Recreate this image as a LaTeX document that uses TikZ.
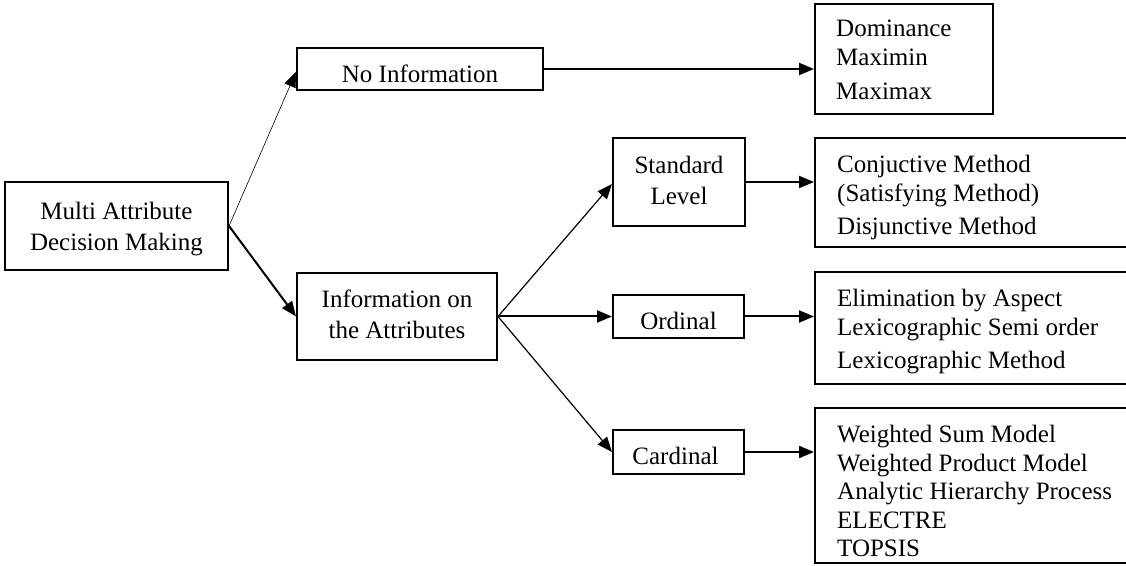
\documentclass[tikz,border=0pt]{standalone}
\usepackage{fontspec}
\setmainfont{Liberation Serif}
\usetikzlibrary{arrows.meta}
\begin{document}
\begin{tikzpicture}[x=1pt,y=1pt,
  box/.style={draw, line width=2pt, rectangle, inner sep=0pt},
  lbl/.style={inner sep=0pt, font=\fontsize{25}{31}\selectfont, align=center},
  lst/.style={inner sep=0pt, font=\fontsize{25}{28.5}\selectfont, align=left, anchor=north west},
  arr/.style={-{Triangle[length=15pt,width=12pt]}, line width=2pt},
  thinarr/.style={arr, line width=0.6pt},
  midarr/.style={arr, line width=1.2pt}]
\useasboundingbox (0,0) rectangle (1126,565);
\clip (0,0) rectangle (1126,565);
% boxes
\node[box, minimum width=223pt, minimum height=88pt] (madm) at (116.5,339) {};
\node[box, minimum width=246pt, minimum height=42pt] (noinfo) at (420,496) {};
\node[box, minimum width=200pt, minimum height=87pt] (info) at (397,248.5) {};
\node[box, minimum width=132pt, minimum height=88pt] (std) at (679,383) {};
\node[box, minimum width=131pt, minimum height=43pt] (ord) at (678.5,248.5) {};
\node[box, minimum width=131pt, minimum height=44pt] (card) at (678.5,113) {};
\node[box, minimum width=178pt, minimum height=110pt] (dom) at (904,506) {};
\node[box, minimum width=324pt, minimum height=109pt] (conj) at (977,372.5) {};
\node[box, minimum width=324pt, minimum height=112pt] (elim) at (977,237) {};
\node[box, minimum width=324pt, minimum height=155pt] (wsm) at (977,79.5) {};
% labels
\node[lbl] (madmT) at ([yshift=-2.75pt]madm.center) {Multi Attribute\\Decision Making};
\node[lbl] (noinfoT) at ([yshift=-5pt]noinfo.center) {No Information};
\node[lbl] (infoT) at ([yshift=2.5pt]info.center) {Information on\\the Attributes};
\node[lbl] (stdT) at ([yshift=2pt]std.center) {Standard\\Level};
\node[lbl] (ordT) at ([yshift=-4pt]ord.center) {Ordinal};
\node[lbl] (cardT) at ([xshift=-3pt,yshift=-3.5pt]card.center) {Cardinal};
\node[lst] (domT) at ([xshift=22pt,yshift=-17pt]dom.north west) {Dominance\\Maximin\\[5.5pt]Maximax};
\node[lst] (conjT) at ([xshift=23pt,yshift=-18pt]conj.north west) {Conjuctive Method\\(Satisfying Method)\\[4.5pt]Disjunctive Method};
\node[lst] (elimT) at ([xshift=23pt,yshift=-18pt]elim.north west) {Elimination by Aspect\\Lexicographic Semi order\\[4.5pt]Lexicographic Method};
\node[lst] (wsmT) at ([xshift=23pt,yshift=-18pt]wsm.north west) {Weighted Sum Model\\Weighted Product Model\\Analytic Hierarchy Process\\ELECTRE\\TOPSIS};
% connectors
\draw[thinarr] (madm.east) -- ([yshift=-3pt]noinfo.west);
\draw[arr] (madm.east) -- (info.west);
\draw[arr] (noinfo.east) -- (noinfo.east -| dom.west);
\draw[midarr] (info.east) -- ([yshift=-2pt]std.west);
\draw[arr] (info.east) -- (ord.west);
\draw[midarr] (info.east) -- (card.west);
\draw[arr] (std.east) -- (std.east -| conj.west);
\draw[arr] (ord.east) -- (ord.east -| elim.west);
\draw[arr] (card.east) -- (card.east -| wsm.west);
\end{tikzpicture}
\end{document}
